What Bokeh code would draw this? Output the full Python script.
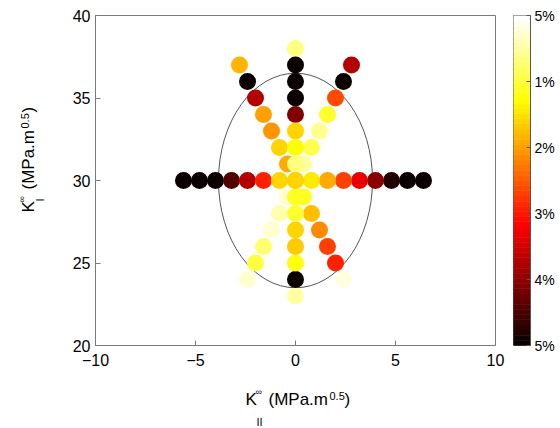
import numpy as np
from bokeh.plotting import figure
from bokeh.models import Range1d, FixedTicker, LinearColorMapper, ColumnDataSource
from bokeh.core.properties import value
from bokeh.layouts import row, column
from bokeh.embed import file_html
from bokeh.resources import INLINE

# ---------------- data (relative error in %, per point) ----------------
# horizontal row at K_I = 30
horiz_x = [-5.6, -4.8, -4.0, -3.2, -2.4, -1.6, -0.8, 0.0, 0.8, 1.6, 2.4, 3.2, 4.0, 4.8, 5.6, 6.4]
horiz_err = [5.0, 5.0, 5.0, 4.4, 3.75, 2.93, 1.63, 1.58, 1.41, 1.93, 2.7, 3.3, 4.0, 4.8, 5.0, 5.0]
# vertical column at K_II = 0
vert_y = [23, 24, 25, 26, 27, 28, 29, 30, 31, 32, 33, 34, 35, 36, 37, 38]
vert_err = [0.51, 5.0, 1.21, 1.7, 1.58, 1.05, 1.13, 1.58, 0.66, 1.29, 1.58, 4.1, 5.0, 5.0, 5.0, 0.66]
# upper arms (K_I from 31 to 37)
upper_y = [31, 32, 33, 34, 35, 36, 37]
upper_left_x = [-0.4, -0.8, -1.2, -1.6, -2.0, -2.4, -2.8]
upper_left_err = [1.93, 1.58, 2.1, 1.99, 3.75, 5.0, 1.87]
upper_right_x = [0.4, 0.8, 1.2, 1.6, 2.0, 2.4, 2.8]
upper_right_err = [0.51, 0.9, 0.59, 1.05, 2.58, 5.0, 3.75]
# lower arms (K_I from 29 down to 24)
lower_y = [29, 28, 27, 26, 25, 24]
lower_left_x = [-0.4, -0.8, -1.2, -1.6, -2.0, -2.4]
lower_left_err = [0.27, 0.43, 0.31, 0.74, 0.98, 0.27]
lower_right_x = [0.4, 0.8, 1.2, 1.6, 2.0, 2.4]
lower_right_err = [1.13, 1.76, 2.16, 2.7, 2.93, 0.23]
# reference ellipse
ellipse_center = (0.0, 30.0)
ellipse_semi_axes = (3.85, 6.5)

x_ticks = [-10, -5, 0, 5, 10]
y_ticks = [20, 25, 30, 35, 40]
cbar_ticks = [0, 1, 2, 3, 4, 5]
cbar_labels = ["5%", "4%", "3%", "2%", "1%", "5%"]   # bottom to top
err_max = 5.0

# ---------------- assemble ----------------
xs, ys, es = [], [], []
def add(xx, yy, ee):
    xs.extend(xx); ys.extend(yy); es.extend(ee)
add(horiz_x, [30] * len(horiz_x), horiz_err)
add([0] * len(vert_y), vert_y, vert_err)
add(upper_left_x, upper_y, upper_left_err)
add(upper_right_x, upper_y, upper_right_err)
add(lower_left_x, lower_y, lower_left_err)
add(lower_right_x, lower_y, lower_right_err)
xs = np.array(xs, float); ys = np.array(ys, float); es = np.array(es, float)
d = np.hypot(xs - ellipse_center[0], (ys - ellipse_center[1]))
order = np.argsort(-d, kind="stable")          # outer points drawn first
src = ColumnDataSource(dict(x=xs[order], y=ys[order], score=err_max - es[order]))

def hot(n=64):
    n1 = int(3 * n / 8); n2 = n1; n3 = n - n1 - n2
    cols = []
    for i in range(n):
        r = min(1.0, (i + 1) / n1)
        g = 0.0 if i < n1 else min(1.0, (i - n1 + 1) / n2)
        b = 0.0 if i < n1 + n2 else (i - n1 - n2 + 1) / n3
        cols.append("#%02x%02x%02x" % (round(r * 255), round(g * 255), round(b * 255)))
    return cols
palette = hot(64)
mapper = LinearColorMapper(palette=palette, low=0, high=err_max)

FONT = "Liberation Sans"
AX = "#7a7a7a"

# ---------------- main figure ----------------
p = figure(width=445, height=383, x_range=Range1d(-10, 10), y_range=Range1d(20, 40),
           output_backend="svg", toolbar_location=None,
           min_border_left=35, min_border_right=10, min_border_top=15, min_border_bottom=38)
p.grid.visible = False
p.outline_line_color = AX
for ax, ticks in ((p.xaxis, x_ticks), (p.yaxis, y_ticks)):
    ax.ticker = FixedTicker(ticks=ticks)
    ax.major_tick_in = 5
    ax.major_tick_out = 0
    ax.minor_tick_line_color = None
    ax.axis_line_color = AX
    ax.major_tick_line_color = AX
    ax.major_label_text_font = FONT
    ax.major_label_text_font_size = "16px"
    ax.major_label_text_color = "black"
p.xaxis.major_label_standoff = 8
p.yaxis.major_label_standoff = 5
p.ellipse(x=ellipse_center[0], y=ellipse_center[1], width=2 * ellipse_semi_axes[0],
          height=2 * ellipse_semi_axes[1], fill_color=None, line_color="#555555", line_width=1)
p.scatter("x", "y", source=src, size=17, marker="circle",
          fill_color={"field": "score", "transform": mapper}, line_color=None)

# ---------------- axis titles (pieces with sub/superscripts) ----------------
def blank(w, h, xr, yr):
    f = figure(width=w, height=h, x_range=Range1d(*xr), y_range=Range1d(*yr),
               output_backend="svg", toolbar_location=None, min_border=0,
               x_axis_location=None, y_axis_location=None)
    f.grid.visible = False
    f.outline_line_color = None
    return f

def tx(f, x, y, s, size, angle=0.0):
    f.text(x=[x], y=[y], text=[s], angle=angle, text_font=value(FONT),
           text_font_size=value("%dpx" % size), text_color="black",
           text_baseline="alphabetic", text_align="left")

# x title: frame is aligned with main frame -> coordinates are page pixels
xt = blank(445, 45, (95, 495), (428, 383))
tx(xt, 245, 399, "K", 17)
tx(xt, 255, 391.5, "\u221e", 9)
tx(xt, 256, 421, "II", 11)
tx(xt, 268, 399, "(MPa.m", 17)
tx(xt, 329, 395, "0.5", 11)
tx(xt, 344, 399, ")", 17)

# y title (rotated): frame is aligned vertically with main frame
yt = blank(60, 428, (0, 60), (345, 15))
a = np.pi / 2
tx(yt, 28, 212, "K", 17, a)
tx(yt, 21, 202, "\u221e", 9, a)
tx(yt, 39, 201, "I", 11, a)
tx(yt, 28, 189, "(MPa.m", 17, a)
tx(yt, 24, 128, "0.5", 11, a)
tx(yt, 28, 112, ")", 17, a)

# ---------------- colorbar figure ----------------
n = len(palette)
bar = ColumnDataSource(dict(bottom=[k * err_max / n for k in range(n)],
                            top=[(k + 1) * err_max / n for k in range(n)],
                            color=palette))
c = figure(width=55, height=428, x_range=Range1d(0, 1), y_range=Range1d(0, err_max),
           output_backend="svg", toolbar_location=None, y_axis_location="right",
           min_border_left=8, min_border_right=30, min_border_top=15, min_border_bottom=83)
c.grid.visible = False
c.xaxis.visible = False
c.quad(left=0, right=1, bottom="bottom", top="top", fill_color="color",
       line_color="color", line_width=0.6, source=bar)
c.outline_line_color = "#555555"
c.yaxis.ticker = FixedTicker(ticks=cbar_ticks)
c.yaxis.major_label_overrides = {t: l for t, l in zip(cbar_ticks, cbar_labels)}
c.yaxis.major_tick_in = 4
c.yaxis.major_tick_out = 0
c.yaxis.minor_tick_line_color = None
c.yaxis.axis_line_color = "#555555"
c.yaxis.major_tick_line_color = "#555555"
c.yaxis.major_label_standoff = 4
c.yaxis.major_label_text_font = FONT
c.yaxis.major_label_text_font_size = "14px"
c.yaxis.major_label_text_color = "black"

layout = row(yt, column(p, xt), c)
open("out.html", "w").write(file_html(layout, INLINE))
